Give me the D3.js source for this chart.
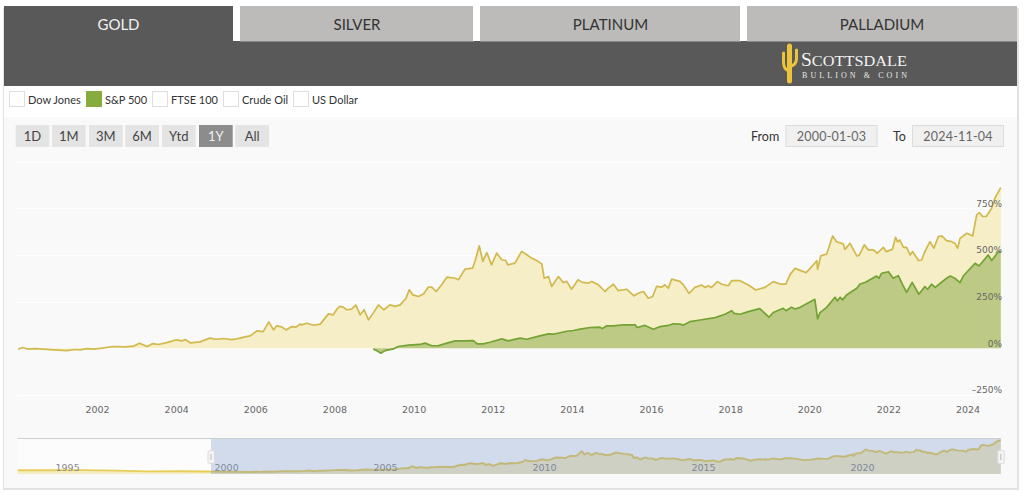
<!DOCTYPE html>
<html><head><meta charset="utf-8">
<script src="https://cdn.jsdelivr.net/npm/d3@7"></script>
<style>
html,body{margin:0;padding:0;background:#fff;overflow:hidden}
svg{display:block}
text{font-family:Lato,"Open Sans",sans-serif}
</style></head><body>
<svg id="c" width="1024" height="495"></svg>
<script>
const tabs = ["GOLD","SILVER","PLATINUM","PALLADIUM"];
const legendItems = ["Dow Jones","S&P 500","FTSE 100","Crude Oil","US Dollar"];
const rangeButtons = ["1D","1M","3M","6M","Ytd","1Y","All"];
const fromDate = "2000-01-03", toDate = "2024-11-04";
const yTicks = [-250,0,250,500,750];
const gridTicks = [-250,0,250,500,750,1000];
const xTicks = [2002,2004,2006,2008,2010,2012,2014,2016,2018,2020,2022,2024];
const navTicks = [1995,2000,2005,2010,2015,2020];

const goldYears = [2000.01,2000.12,2000.26,2000.43,2000.64,2000.90,2001.23,2001.44,2001.57,2001.74,2001.91,2002.12,2002.41,2002.71,2002.92,2003.07,2003.27,2003.41,2003.55,2003.76,2004.01,2004.14,2004.24,2004.35,2004.60,2004.85,2005.02,2005.19,2005.40,2005.53,2005.74,2005.87,2006.04,2006.20,2006.34,2006.46,2006.54,2006.67,2006.78,2006.92,2007.03,2007.13,2007.17,2007.30,2007.47,2007.64,2007.85,2007.97,2008.06,2008.14,2008.22,2008.31,2008.43,2008.54,2008.65,2008.75,2008.86,2008.98,2009.11,2009.25,2009.40,2009.53,2009.66,2009.81,2009.89,2009.98,2010.12,2010.25,2010.37,2010.46,2010.57,2010.71,2010.84,2011.05,2011.13,2011.30,2011.49,2011.55,2011.66,2011.75,2011.85,2011.97,2012.10,2012.23,2012.33,2012.38,2012.56,2012.73,2012.86,2012.98,2013.11,2013.24,2013.30,2013.41,2013.49,2013.66,2013.78,2013.87,2013.99,2014.16,2014.25,2014.42,2014.50,2014.67,2014.84,2014.92,2015.05,2015.17,2015.39,2015.57,2015.68,2015.81,2015.93,2016.04,2016.14,2016.27,2016.35,2016.44,2016.52,2016.73,2016.82,2016.96,2017.11,2017.28,2017.36,2017.45,2017.53,2017.68,2017.79,2017.95,2018.04,2018.25,2018.46,2018.65,2018.88,2019.09,2019.26,2019.41,2019.51,2019.64,2019.92,2020.06,2020.19,2020.21,2020.29,2020.44,2020.59,2020.69,2020.86,2020.90,2021.03,2021.20,2021.26,2021.39,2021.49,2021.62,2021.72,2021.87,2021.94,2022.10,2022.18,2022.23,2022.29,2022.38,2022.46,2022.55,2022.61,2022.76,2022.84,2022.92,2023.05,2023.15,2023.26,2023.35,2023.47,2023.60,2023.68,2023.75,2023.81,2023.98,2024.13,2024.23,2024.30,2024.38,2024.47,2024.61,2024.69,2024.75,2024.84];
const goldValues = [-5,4,-5,-2,-5,-9,-13,-7,-9,-2,-5,0,9,7,11,27,9,25,20,30,45,39,46,29,34,54,48,52,46,50,61,66,93,89,141,98,120,114,98,116,113,129,125,134,123,129,184,179,209,224,220,206,209,231,179,206,152,188,232,206,232,224,232,268,313,286,277,291,327,327,304,340,381,375,367,424,429,465,549,465,513,447,510,474,470,447,456,519,501,483,470,452,375,384,331,384,352,358,316,367,354,349,358,340,304,322,343,309,316,281,295,304,268,277,331,327,340,322,370,358,339,294,326,339,326,334,326,357,343,335,362,362,339,312,326,357,344,344,393,428,405,437,469,423,495,505,602,571,559,530,562,495,498,554,527,527,509,541,518,530,595,571,580,541,541,500,518,470,473,518,571,536,598,602,577,571,562,536,589,616,602,715,727,706,706,750,804,827,861];

const spYears = [2008.98,2009.07,2009.17,2009.28,2009.49,2009.61,2009.87,2010.16,2010.29,2010.46,2010.63,2010.84,2011.05,2011.30,2011.51,2011.61,2011.76,2011.93,2012.23,2012.39,2012.69,2012.86,2013.19,2013.41,2013.53,2013.87,2014.04,2014.21,2014.46,2014.71,2014.77,2014.88,2015.05,2015.30,2015.60,2015.65,2015.85,2016.06,2016.23,2016.44,2016.56,2016.73,2016.82,2016.98,2017.24,2017.62,2017.87,2018.04,2018.10,2018.25,2018.46,2018.75,2018.98,2019.09,2019.34,2019.41,2019.55,2019.64,2019.77,2020.14,2020.21,2020.27,2020.44,2020.65,2020.71,2020.78,2020.84,2020.94,2021.20,2021.28,2021.41,2021.70,2021.76,2021.83,2022.00,2022.12,2022.25,2022.36,2022.46,2022.60,2022.77,2022.92,2022.99,2023.09,2023.18,2023.47,2023.56,2023.68,2023.81,2023.89,2024.19,2024.29,2024.52,2024.61,2024.78,2024.84];
const spValues = [-4,-13,-27,-13,-4,9,16,20,27,13,14,27,39,39,41,23,23,32,50,39,54,48,66,77,75,91,95,102,111,113,105,120,120,125,125,111,122,102,116,122,131,129,124,142,151,164,182,201,187,182,196,212,166,191,214,201,219,210,219,262,157,191,219,273,253,273,259,285,321,344,352,387,375,402,410,375,389,339,300,353,289,330,316,343,326,375,387,375,352,387,455,441,500,470,518,518];

const navEarlyYears = [1993.92,1995,1996,1997,1998,1999,2000];
const navEarlyValues = [35,34,38,25,3,5,0];

const axisFont = "'DejaVu Sans',sans-serif";
const svg = d3.select("#c");
// outer panel
svg.append("rect").attr("x",3).attr("y",8).attr("width",1016).attr("height",482).attr("fill","#e2e2e2");
svg.append("rect").attr("x",4).attr("y",6).attr("width",1013).attr("height",482).attr("fill","#f9f9f9");
svg.append("rect").attr("x",4).attr("y",86).attr("width",1013).attr("height",31).attr("fill","#fff");
// header
svg.append("rect").attr("x",4).attr("y",41).attr("width",1013).attr("height",45).attr("fill","#595959");
const tabBoxes = [[4,229],[240,234],[480,261],[747,270]];
tabs.forEach((t,i)=>{
  const b = tabBoxes[i];
  if(i>0) svg.append("rect").attr("x",b[0]-7).attr("y",6).attr("width",7).attr("height",35).attr("fill","#fff");
  svg.append("rect").attr("x",b[0]).attr("y",6).attr("width",b[1]).attr("height",i==0?35:35.5).attr("fill",i==0?"#595959":"#bcbbb9");
  svg.append("text").attr("x",b[0]+b[1]/2).attr("y",30).attr("text-anchor","middle")
    .attr("font-size",15).attr("fill",i==0?"#f2f2f2":"#333").text(t);
});
// logo
const logo = svg.append("g");
const cactus = ["M789.5 81 L789.5 46","M789.5 71 Q783.5 70 783.5 62 L783.5 53","M789.5 66 Q796.5 66 796.5 58 L796.5 50"];
cactus.forEach((d,i)=>logo.append("path").attr("d",d).attr("fill","none").attr("stroke","#eec33c")
  .attr("stroke-width",i==0?5:3).attr("stroke-linecap","round"));
const sc = logo.append("text").attr("x",801).attr("y",66).attr("fill","#f4f4f4")
  .style("font-family","'Liberation Serif',serif").attr("font-size",15).attr("textLength",106).attr("lengthAdjust","spacingAndGlyphs");
sc.append("tspan").attr("font-size",18).text("S");
sc.append("tspan").text("COTTSDALE");
logo.append("text").attr("x",802).attr("y",77.5).attr("fill","#e8e8e8").style("font-family","'Liberation Serif',serif")
  .attr("font-size",8).attr("textLength",105).text("BULLION & COIN");

// legend
const legX = [[9,28],[86,105],[152,171],[223,242],[293,312]];
legendItems.forEach((t,i)=>{
  svg.append("rect").attr("x",legX[i][0]+.5).attr("y",91.5).attr("width",15).attr("height",15)
    .attr("fill",i==1?"#85ac3c":"#fff").attr("stroke",i==1?"#85ac3c":"#dedede");
  svg.append("text").attr("x",legX[i][1]).attr("y",103.5).attr("font-size",11).attr("fill","#333").text(t);
});
// range buttons
const btnX = [15.7,52,89,125.3,162,199,235.3];
rangeButtons.forEach((t,i)=>{
  svg.append("rect").attr("x",btnX[i]).attr("y",125).attr("width",33.7).attr("height",22)
    .attr("fill",i==5?"#8c8c8c":"#e4e4e4");
  svg.append("text").attr("x",btnX[i]+16.8).attr("y",140.5).attr("text-anchor","middle").attr("font-size",13)
    .attr("fill",i==5?"#f0f0f0":"#444").text(t);
});
// date inputs
[["From",751,785.5,fromDate],["To",893,912,toDate]].forEach(d=>{
  svg.append("text").attr("x",d[1]).attr("y",141).attr("font-size",12.5).attr("fill","#333").text(d[0]);
  svg.append("rect").attr("x",d[2]+.5).attr("y",125.5).attr("width",91).attr("height",21).attr("fill","#f0f0f0").attr("stroke","#dcdcdc");
  svg.append("text").attr("x",d[2]+46).attr("y",141).attr("text-anchor","middle").attr("font-size",12.5).attr("fill","#666")
    .attr("letter-spacing",.2).text(d[3]);
});

// main chart
const x = d3.scaleLinear().domain([2000,2024.84]).range([17.9,1000.8]);
const y = d3.scaleLinear().domain([0,750]).range([348.2,208.3]);
const toPts = (ys,vs)=>ys.map((t,i)=>[t,vs[i]]);
const gold = toPts(goldYears,goldValues), sp = toPts(spYears,spValues);

svg.append("g").selectAll("line").data(gridTicks).join("line")
  .attr("x1",18).attr("x2",1001).attr("y1",d=>Math.round(y(d))+.5).attr("y2",d=>Math.round(y(d))+.5)
  .attr("stroke","#fff").attr("stroke-width",1);

const area = d3.area().x(d=>x(d[0])).y0(y(0)).y1(d=>y(d[1]));
const line = d3.line().x(d=>x(d[0])).y(d=>y(d[1]));
svg.append("path").datum(gold).attr("d",area).attr("fill","#f6eec6");
svg.append("path").datum(gold).attr("d",line).attr("fill","none").attr("stroke","#d2b94e").attr("stroke-width",1.7).attr("stroke-linejoin","round");
svg.append("path").datum(sp).attr("d",area).attr("fill","#bdca85");
svg.append("path").datum(sp).attr("d",line).attr("fill","none").attr("stroke","#73a334").attr("stroke-width",1.7).attr("stroke-linejoin","round");

const yAxis = svg.append("g").attr("transform","translate(1002,0)")
  .call(d3.axisLeft(y).tickValues(yTicks).tickSize(0).tickPadding(0).tickFormat(d=>(d<0?"\u2013"+(-d):d)+"%"));
yAxis.select(".domain").remove();
yAxis.selectAll("text").attr("dy",-2).attr("font-size",9).attr("fill","#666").style("font-family",axisFont);

const xAxis = svg.append("g").attr("transform","translate(0,405.8)")
  .call(d3.axisBottom(x).tickValues(xTicks).tickSize(0).tickPadding(0).tickFormat(d3.format("d")));
xAxis.select(".domain").remove();
xAxis.selectAll("text").attr("font-size",9.5).attr("fill","#666").style("font-family",axisFont);

// navigator
const nx = d3.scaleLinear().domain([2000,2024.84]).range([211,1000.8]);
const ny = d3.scaleLinear().domain([0,861]).range([471.5,440]);
const navData = toPts(navEarlyYears,navEarlyValues).concat(gold);
const navL = nx(1993.92);
svg.append("rect").attr("x",navL).attr("y",438).attr("width",1000.8-navL).attr("height",36).attr("fill","#fcfcfc");
const nArea = d3.area().x(d=>nx(d[0])).y0(474).y1(d=>ny(d[1]));
const nLine = d3.line().x(d=>nx(d[0])).y(d=>ny(d[1]));
svg.append("path").datum(navData).attr("d",nArea).attr("fill","#f5edc4");
svg.append("path").datum(navData).attr("d",nLine).attr("fill","none").attr("stroke","#e6cd5c").attr("stroke-width",1.9);
const navAxis = svg.append("g").attr("transform","translate(0,463.8)")
  .call(d3.axisBottom(nx).tickValues(navTicks).tickSize(0).tickPadding(0).tickFormat(d3.format("d")));
navAxis.select(".domain").remove();
navAxis.selectAll("text").attr("text-anchor","start").attr("dx",3).attr("font-size",9.5).attr("fill","#8a8a8a").style("font-family",axisFont);
svg.append("rect").attr("x",nx(2000)).attr("y",438).attr("width",nx(2024.84)-nx(2000)).attr("height",36)
  .attr("fill","#6685c2").attr("fill-opacity",.28);
svg.append("line").attr("x1",navL).attr("x2",1000.8).attr("y1",438.5).attr("y2",438.5).attr("stroke","#cfcfcf");
[2000,2024.84].forEach(t=>{
  const cx = nx(t);
  svg.append("rect").attr("x",cx-3).attr("y",450.5).attr("width",6.5).attr("height",13).attr("rx",1.5)
    .attr("fill","#f4f4f4").attr("stroke","#dcdcdc");
  svg.append("line").attr("x1",cx).attr("x2",cx).attr("y1",454).attr("y2",460).attr("stroke","#bbb");
});
</script>
</body></html>
